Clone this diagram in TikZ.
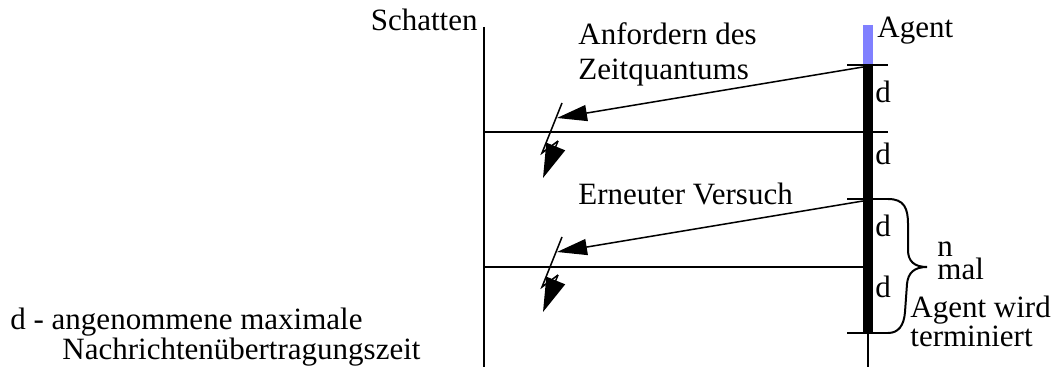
\documentclass[tikz,border=0pt]{standalone}
\usepackage{fontspec}
\setmainfont{Liberation Serif}
\usetikzlibrary{arrows.meta}

\begin{document}
\begin{tikzpicture}[x=0.5pt,y=-0.5pt,
        lbl/.style={inner sep=0pt,anchor=base west,font=\fontsize{15.5}{17.5}\selectfont},
        life/.style={line width=1pt},
        msg/.style={line width=0.75pt,-{Triangle[length=15pt,width=8pt]}},
        bolt/.style={line width=0.75pt}]
    \useasboundingbox (0,0) rectangle (1054,367);
    % lifelines
    \coordinate (sTop) at (484,27);
    \coordinate (sBot) at (484,367);
    \draw[life] (sTop) -- (sBot);
    \coordinate (aTop) at (868,25);
    \coordinate (aStart) at (868,65);
    \coordinate (aEnd) at (868,333);
    \coordinate (aBot) at (868,367);
    \draw[line width=5pt,blue!50] (aTop) -- (aStart);
    \draw[line width=5pt] (aStart) -- (aEnd);
    \draw[life] (aEnd) -- (aBot);
    % ticks
    \foreach \y/\n in {65/t1,132/t2,199/t3,333/t4} {
        \coordinate (\n l) at (847,\y);
        \coordinate (\n r) at (888,\y);
        \draw[life] (\n l) -- (\n r);
    }
    \coordinate (h1) at (484,132);
    \coordinate (h2) at (484,267);
    \draw[life] (h1) -- (t2l);
    \draw[life] (h2) -- (aStart |- h2);
    % messages and lightning
    \foreach \o [count=\i] in {0,134} {
        \coordinate (req\i) at (863,67+\o);
        \coordinate (lost\i) at (557,118+\o);
        \draw[msg] (req\i) -- (lost\i);
        \coordinate (z\i a) at (562,103+\o);
        \coordinate (z\i b) at (542,153+\o);
        \coordinate (z\i c) at (558,141+\o);
        \coordinate (z\i d) at (543,178+\o);
        \draw[bolt] (z\i a) -- (z\i b) -- (z\i c);
        \draw[bolt,-{Triangle[length=17pt,width=10pt]}] (z\i c) -- (z\i d);
    }
    % brace
    \coordinate (bTip) at (927,267);
    \draw[life] (t3r) .. controls (904,199) and (908,208) .. (908,224) -- (908,250)
        .. controls (908,261) and (914,267) .. (bTip)
        .. controls (914,267) and (908,273) .. (907,284) -- (905,312)
        .. controls (904,326) and (898,333) .. (t4r);
    % labels
    \node[lbl,anchor=base east] (schatten) at (478,31) {Schatten};
    \node[lbl] (agent) at (877,38) {Agent};
    \node[lbl,align=left] (request) at (578,80) {Anfordern des\\Zeitquantums};
    \node[lbl] (retry) at (578,205) {Erneuter Versuch};
    \foreach \y [count=\i] in {103,165,237,298}
        \node[lbl] (d\i) at (875,\y) {d};
    \node[lbl,align=left,font=\fontsize{15.5}{11.5}\selectfont] (nmal) at (937,280) {n\\mal};
    \node[lbl,align=left,font=\fontsize{15.5}{14.5}\selectfont] (term) at (910,347) {Agent wird\\terminiert};
    \node[lbl,align=left,font=\fontsize{15.5}{14}\selectfont] (legend) at (10,360) {d - angenommene maximale\\\hspace*{26pt}Nachrichtenübertragungszeit};
\end{tikzpicture}
\end{document}
